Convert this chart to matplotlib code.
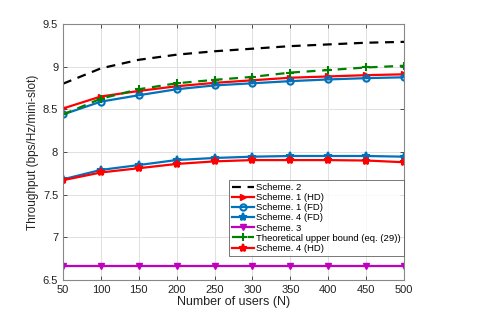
import matplotlib
matplotlib.use("Agg")
import matplotlib.pyplot as plt

users = [50, 100, 150, 200, 250, 300, 350, 400, 450, 500]

scheme2 = [8.80, 8.98, 9.08, 9.14, 9.18, 9.21, 9.24, 9.26, 9.28, 9.29]
scheme1_hd = [8.51, 8.65, 8.715, 8.77, 8.81, 8.84, 8.87, 8.885, 8.90, 8.91]
scheme1_fd = [8.44, 8.59, 8.665, 8.735, 8.78, 8.805, 8.83, 8.85, 8.865, 8.875]
scheme4_fd = [7.68, 7.79, 7.847, 7.906, 7.93, 7.945, 7.953, 7.953, 7.953, 7.945]
scheme3 = [6.66] * 10
upper_bound = [8.44, 8.625, 8.735, 8.805, 8.845, 8.88, 8.93, 8.96, 8.99, 9.01]
scheme4_hd = [7.67, 7.76, 7.81, 7.86, 7.89, 7.905, 7.905, 7.905, 7.90, 7.88]

blue = "#0072BD"
green = "#008000"

plt.rcParams['font.family'] = ['Liberation Sans', 'DejaVu Sans']

fig = plt.figure(figsize=(4.85, 3.15), dpi=100)
ax = fig.add_axes([0.130, 0.111, 0.703, 0.813])

ax.plot(users, scheme2, '--', color='k', lw=1.6, dashes=(4, 3), label='Scheme. 2')
ax.plot(users, scheme1_hd, '-', color='r', lw=1.6, marker='>', ms=5, label='Scheme. 1 (HD)')
ax.plot(users, scheme1_fd, '-', color=blue, lw=1.6, marker='o', ms=4.5, mfc='none', mew=1.5, label='Scheme. 1 (FD)')
ax.plot(users, scheme4_fd, '-', color=blue, lw=1.6, marker='*', ms=6, mew=1.5, label='Scheme. 4 (FD)')
ax.plot(users, scheme3, '-', color='m', lw=1.6, marker='v', ms=5, label='Scheme. 3')
ax.plot(users, upper_bound, '--', color=green, lw=1.6, dashes=(4, 3), marker='+', ms=6, mew=1.5, label='Theoretical upper bound (eq. (29))')
ax.plot(users, scheme4_hd, '-', color='r', lw=1.6, marker='*', ms=6, mew=1.5, label='Scheme. 4 (HD)')

ax.set_xlim(50, 500)
ax.set_ylim(6.5, 9.5)
ax.set_xticks(users)
ax.set_yticks([6.5, 7, 7.5, 8, 8.5, 9, 9.5])
ax.set_yticklabels(['6.5', '7', '7.5', '8', '8.5', '9', '9.5'])
ax.grid(True, color='#e0e0e0', lw=0.7)
ax.set_axisbelow(True)
for s in ax.spines.values():
    s.set_color('#888888')
    s.set_linewidth(0.8)
ax.tick_params(direction='in', top=True, right=True, labelsize=8, colors='#333333', length=3, width=0.6)
ax.tick_params(labelcolor='#222222')

ax.set_xlabel('Number of users (N)', fontsize=9, color='#222222', labelpad=1)
ax.set_ylabel('Throughput (bps/Hz/mini-slot)', fontsize=8.5, color='#222222', labelpad=3)

leg = ax.legend(loc='lower right', bbox_to_anchor=(1.0, 0.095), fontsize=6.8, frameon=True,
                fancybox=False, edgecolor='#555555', handlelength=2.3, handletextpad=0.3,
                labelspacing=0.12, borderpad=0.3, borderaxespad=0.0)
leg.get_frame().set_linewidth(0.7)

fig.savefig("out.png", dpi=100)
